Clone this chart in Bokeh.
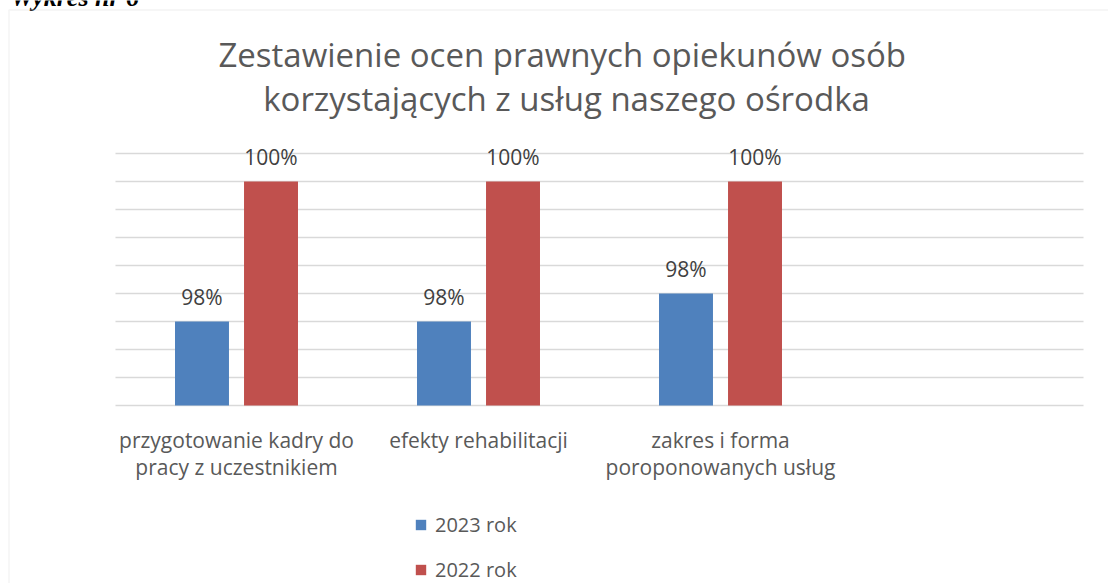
from bokeh.plotting import figure
from bokeh.models import (ColumnDataSource, Range1d, Label, Legend, LegendItem, BoxAnnotation)
from bokeh.core.properties import value
from bokeh.embed import file_html
from bokeh.resources import INLINE

# ---------------- data ----------------
categories = ["przygotowanie kadry do\npracy z uczestnikiem",
              "efekty rehabilitacji",
              "zakres i forma\nporoponowanych usług"]
n_slots = 4                     # the category axis has one empty slot at the end
series_names = ["2023 rok", "2022 rok"]
values_2023 = [0.975, 0.975, 0.98]
values_2022 = [1.0, 1.0, 1.0]
labels_2023 = ["98%", "98%", "98%"]
labels_2022 = ["100%", "100%", "100%"]
grid_values = [0.96, 0.965, 0.97, 0.975, 0.98, 0.985, 0.99, 0.995, 1.0, 1.005]
title_lines = ["Zestawienie  ocen prawnych opiekunów osób",
               "korzystających z usług naszego ośrodka"]
caption = "Wykres nr 6"

BLUE = "#4f81bd"
RED = "#c0504d"
GRID = "#d9d9d9"
FONT = "Open Sans"

# ---------------- layout (pixels) ----------------
W, H = 1108, 583
PL, PR, PT, PB = 115, 1083, 153, 405      # plot area: category band / gridline band
CW = (PR - PL) / n_slots
K = (grid_values[-1] - grid_values[0]) / (PB - PT)


def px_x(X):
    return (X - PL) / CW


def px_y(Y):
    return grid_values[0] + (PB - Y) * K


p = figure(width=W, height=H, output_backend="svg", toolbar_location=None,
           x_range=Range1d(px_x(0), px_x(W)), y_range=Range1d(px_y(H), px_y(0)),
           min_border=0)
p.axis.visible = False
p.grid.visible = False
p.outline_line_color = None
p.background_fill_color = "white"
p.border_fill_color = "white"

centers = [i + 0.5 for i in range(len(categories))]
off = 0.1426
bw = 0.223
src = ColumnDataSource(dict(
    x23=[c - off for c in centers], x22=[c + off for c in centers],
    v2023=values_2023, v2022=values_2022, l2023=labels_2023, l2022=labels_2022))

# gridlines
p.segment(x0=[0] * len(grid_values), x1=[n_slots] * len(grid_values),
          y0=grid_values, y1=grid_values, line_color=GRID, line_width=1.5)

r1 = p.vbar(x="x23", top="v2023", bottom=grid_values[0], width=bw, source=src,
            fill_color=BLUE, line_color=None)
r2 = p.vbar(x="x22", top="v2022", bottom=grid_values[0], width=bw, source=src,
            fill_color=RED, line_color=None)

for xs, ys, ls in [("x23", "v2023", "l2023"), ("x22", "v2022", "l2022")]:
    p.text(x=xs, y=ys, text=ls, source=src, text_align="center",
           text_baseline="alphabetic", y_offset=-25, text_font_size="21px",
           text_color="#404040", text_font=value(FONT))

# category labels
p.text(x=centers, y=[px_y(425)] * len(categories), text=categories,
       text_align="center", text_baseline="top", text_font_size="21px",
       text_color="#595959", text_font=value(FONT), text_line_height=0.97)

legend = Legend(items=[LegendItem(label=series_names[0], renderers=[r1]),
                       LegendItem(label=series_names[1], renderers=[r2])],
                location=(414, 0), orientation="vertical",
                glyph_width=13, glyph_height=13, label_standoff=8,
                label_height=13, spacing=18, padding=0, margin=0,
                border_line_color=None, background_fill_alpha=0,
                label_text_font_size="20px", label_text_color="#595959",
                label_text_font=FONT)
p.add_layout(legend)

for txt, base in zip(title_lines, [54, 98]):
    p.add_layout(Label(x=px_x(566), y=px_y(base), text=txt, text_align="center",
                       text_baseline="alphabetic", text_font_size="33px",
                       text_color="#595959", text_font=FONT))

p.add_layout(Label(x=px_x(10), y=px_y(-3), text=caption, text_align="left",
                   text_baseline="alphabetic", text_font_size="26px",
                   text_font_style="bold italic", text_color="black",
                   text_font="Liberation Serif"))

p.add_layout(BoxAnnotation(left=px_x(8.5), right=px_x(W + 50), top=px_y(9.5),
                           bottom=px_y(H + 50), fill_alpha=0, line_color=GRID,
                           line_width=1.5))

open("out.html", "w").write(file_html(p, INLINE))
